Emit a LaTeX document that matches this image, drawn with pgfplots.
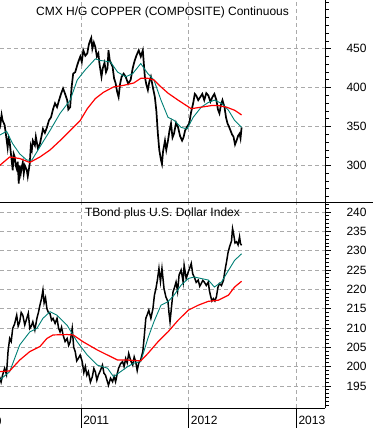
\documentclass[border=0pt]{standalone}
\usepackage{pgfplots}
\pgfplotsset{compat=1.18}
\usepackage{fontspec}
\setmainfont{Liberation Sans}
\definecolor{teal2}{RGB}{0,128,118}
\definecolor{gridg}{RGB}{170,170,170}
\begin{document}
\begin{tikzpicture}
\pgfplotsset{
  every axis/.style={
    scale only axis, width=325pt, xmin=2010.245, xmax=2013.265,
    axis x line*=bottom, axis y line*=right,
    tick align=outside, clip=false,
    yticklabel pos=right,
    /pgf/number format/assume math mode=true,
    /pgf/number format/1000 sep={},
    tick label style={font=\fontsize{12}{12}\selectfont},
    grid style={gridg, dash pattern=on 4pt off 3pt, line width=0.8pt},
    xmajorgrids, ymajorgrids,
    major tick length=6pt, minor tick length=4pt,
    axis line style={line width=0.9pt},
    every tick/.style={black, line width=0.9pt},
    yticklabel style={anchor=west, xshift=12pt},
  }
}
% top panel: copper
\begin{axis}[at={(0pt,226pt)}, anchor=south west, height=202pt,
  ymin=253.2, ymax=512.6,
  xtick={2011,2012,2013}, xticklabels={},
  x tick style={draw=none},
  ytick={300,350,400,450}, minor ytick={260,270,...,510},
]
\addplot[black, line width=1.7pt] coordinates {
(2010.241,362) (2010.250,354) (2010.260,365) (2010.269,358) (2010.288,352) (2010.300,340) (2010.316,323) (2010.325,335) (2010.335,330) (2010.353,307) (2010.363,294) (2010.372,315) (2010.382,311) (2010.391,300) (2010.400,296) (2010.410,305) (2010.419,277) (2010.428,300) (2010.438,290) (2010.447,298) (2010.457,304) (2010.466,290) (2010.476,300) (2010.494,294) (2010.503,286) (2010.522,303) (2010.531,325) (2010.541,320) (2010.550,332) (2010.569,326) (2010.578,337) (2010.597,322) (2010.616,328) (2010.634,340) (2010.644,347) (2010.662,342) (2010.681,349) (2010.700,358) (2010.719,362) (2010.737,372) (2010.756,380) (2010.775,375) (2010.794,384) (2010.812,392) (2010.831,399) (2010.850,392) (2010.869,384) (2010.880,372) (2010.897,375) (2010.910,400) (2010.925,418) (2010.944,420) (2010.963,429) (2010.980,436) (2010.991,440) (2011.005,433) (2011.019,448) (2011.038,441) (2011.056,444) (2011.070,455) (2011.084,461) (2011.093,464) (2011.103,450) (2011.117,458) (2011.131,452) (2011.145,440) (2011.159,444) (2011.170,430) (2011.188,414) (2011.200,425) (2011.216,432) (2011.230,420) (2011.244,425) (2011.253,448) (2011.265,435) (2011.281,430) (2011.291,427) (2011.305,412) (2011.319,406) (2011.333,395) (2011.347,388) (2011.361,405) (2011.375,414) (2011.394,418) (2011.413,414) (2011.436,405) (2011.459,410) (2011.478,425) (2011.497,435) (2011.515,442) (2011.534,448) (2011.553,440) (2011.572,448) (2011.582,430) (2011.591,414) (2011.605,404) (2011.619,397) (2011.633,408) (2011.647,414) (2011.666,400) (2011.684,388) (2011.698,370) (2011.712,341) (2011.725,320) (2011.741,307) (2011.750,302) (2011.760,318) (2011.778,332) (2011.790,320) (2011.806,332) (2011.820,345) (2011.834,354) (2011.848,336) (2011.862,341) (2011.881,355) (2011.900,349) (2011.918,338) (2011.937,332) (2011.950,336) (2011.965,345) (2011.984,350) (2012.003,354) (2012.020,368) (2012.040,380) (2012.055,392) (2012.068,390) (2012.087,384) (2012.106,388) (2012.125,392) (2012.143,384) (2012.162,393) (2012.181,390) (2012.200,382) (2012.219,388) (2012.237,392) (2012.256,384) (2012.270,372) (2012.284,367) (2012.298,378) (2012.312,384) (2012.331,375) (2012.345,362) (2012.359,354) (2012.373,350) (2012.387,345) (2012.401,340) (2012.415,337) (2012.429,327) (2012.443,332) (2012.457,338) (2012.471,341) (2012.480,335) (2012.490,349)
};
\addplot[teal2, line width=0.9pt] coordinates {
(2010.241,339) (2010.306,344) (2010.363,328) (2010.428,315) (2010.494,307) (2010.541,307) (2010.616,324) (2010.710,345) (2010.803,367) (2010.897,384) (2010.963,410) (2011.038,423) (2011.131,437) (2011.178,435) (2011.272,433) (2011.338,420) (2011.413,414) (2011.478,418) (2011.553,431) (2011.619,418) (2011.675,410) (2011.741,384) (2011.806,362) (2011.862,358) (2011.928,349) (2011.984,347) (2012.040,362) (2012.115,375) (2012.181,381) (2012.237,384) (2012.303,380) (2012.368,371) (2012.425,358) (2012.490,349)
};
\addplot[red, line width=1.2pt] coordinates {
(2010.241,300) (2010.335,311) (2010.428,309) (2010.522,304) (2010.616,311) (2010.710,320) (2010.803,332) (2010.897,345) (2010.991,358) (2011.056,373) (2011.131,386) (2011.206,394) (2011.300,401) (2011.394,403) (2011.488,406) (2011.553,412) (2011.619,412) (2011.675,410) (2011.741,401) (2011.806,393) (2011.900,384) (2012.022,373) (2012.115,375) (2012.209,377) (2012.275,377) (2012.350,375) (2012.425,371) (2012.490,365)
};
\node[anchor=base, font=\fontsize{12}{12}\selectfont, inner sep=0pt] at ([yshift=-15.5pt]rel axis cs:0.5,1) {CMX H/G COPPER (COMPOSITE) Continuous};
\end{axis}
% bottom panel
\begin{axis}[at={(0pt,20pt)}, anchor=south west, height=206pt,
  ymin=189.3, ymax=242.6,
  xtick=\empty,
  minor xtick={2010.25,2010.33333,...,2013.26},
  extra x ticks={2011,2012,2013},
  extra x tick labels={2011,2012,2013},
  extra x tick style={major tick length=20pt, grid=major,
    xticklabel style={anchor=north west, xshift=-1.5pt, yshift=15pt}},
  ytick={195,200,...,240}, minor ytick={190,191,...,242},
]
\addplot[black, line width=1.5pt] coordinates {
(2010.241,197.4) (2010.255,196.0) (2010.269,197.8) (2010.288,199.6) (2010.305,198.0) (2010.320,204.0) (2010.335,207.3) (2010.349,206.5) (2010.363,209.9) (2010.380,211.0) (2010.400,213.3) (2010.414,210.5) (2010.428,211.6) (2010.442,214.0) (2010.457,213.3) (2010.475,210.8) (2010.494,212.5) (2010.508,213.8) (2010.522,209.9) (2010.536,210.5) (2010.550,211.6) (2010.569,209.5) (2010.588,212.5) (2010.602,214.0) (2010.616,215.9) (2010.630,217.5) (2010.644,219.8) (2010.655,216.5) (2010.668,217.8) (2010.681,215.0) (2010.695,214.0) (2010.710,213.7) (2010.724,212.0) (2010.738,212.5) (2010.757,211.2) (2010.775,212.5) (2010.789,210.0) (2010.803,209.0) (2010.817,210.2) (2010.831,208.2) (2010.850,206.5) (2010.869,207.3) (2010.883,205.5) (2010.897,206.4) (2010.916,209.9) (2010.930,205.0) (2010.944,203.9) (2010.958,201.5) (2010.972,202.1) (2010.990,203.0) (2011.009,201.3) (2011.024,198.5) (2011.038,200.0) (2011.052,197.8) (2011.066,198.7) (2011.085,196.0) (2011.103,197.4) (2011.117,199.5) (2011.131,198.7) (2011.145,196.5) (2011.159,197.8) (2011.178,199.0) (2011.197,200.4) (2011.211,198.3) (2011.225,197.8) (2011.239,196.5) (2011.253,195.2) (2011.272,197.0) (2011.291,196.1) (2011.305,197.5) (2011.319,196.1) (2011.333,198.0) (2011.347,199.6) (2011.366,200.8) (2011.384,201.3) (2011.398,200.0) (2011.413,202.1) (2011.427,201.0) (2011.441,203.4) (2011.460,201.5) (2011.478,200.4) (2011.492,202.5) (2011.506,201.3) (2011.520,199.0) (2011.534,200.9) (2011.553,201.8) (2011.572,203.9) (2011.586,208.0) (2011.600,212.5) (2011.614,213.5) (2011.628,214.6) (2011.647,212.5) (2011.666,215.0) (2011.680,218.5) (2011.694,220.2) (2011.708,222.5) (2011.722,225.4) (2011.736,222.0) (2011.750,225.4) (2011.769,220.2) (2011.787,218.0) (2011.806,216.8) (2011.815,214.0) (2011.825,211.6) (2011.839,215.5) (2011.853,219.4) (2011.867,220.5) (2011.881,221.9) (2011.895,219.5) (2011.909,223.7) (2011.928,225.0) (2011.947,221.9) (2011.956,226.2) (2011.975,222.8) (2011.994,224.5) (2012.008,225.5) (2012.022,226.7) (2012.036,224.0) (2012.050,223.2) (2012.068,221.8) (2012.087,222.4) (2012.101,220.8) (2012.115,221.5) (2012.129,222.3) (2012.143,221.9) (2012.162,221.0) (2012.181,221.9) (2012.190,219.8) (2012.200,218.5) (2012.214,217.0) (2012.228,217.6) (2012.242,217.0) (2012.256,218.1) (2012.270,220.5) (2012.284,221.5) (2012.303,221.0) (2012.322,222.4) (2012.336,225.0) (2012.350,227.1) (2012.364,229.5) (2012.378,231.0) (2012.396,232.5) (2012.406,235.7) (2012.415,234.5) (2012.429,232.0) (2012.443,232.3) (2012.457,231.5) (2012.471,233.6) (2012.480,231.8) (2012.490,231.4)
};
\addplot[teal2, line width=0.9pt] coordinates {
(2010.241,196.5) (2010.335,198.7) (2010.428,205.6) (2010.522,209.0) (2010.588,209.9) (2010.644,212.5) (2010.710,214.2) (2010.775,213.3) (2010.869,210.7) (2010.963,206.4) (2011.056,203.0) (2011.150,200.4) (2011.244,199.6) (2011.300,197.4) (2011.366,198.7) (2011.431,200.0) (2011.488,200.9) (2011.553,201.3) (2011.619,207.3) (2011.675,211.6) (2011.741,215.9) (2011.806,216.8) (2011.862,218.5) (2011.928,221.1) (2011.994,222.8) (2012.050,223.2) (2012.115,222.8) (2012.181,222.4) (2012.237,220.6) (2012.303,221.9) (2012.368,224.9) (2012.425,227.5) (2012.490,229.2)
};
\addplot[red, line width=1.2pt] coordinates {
(2010.241,198.7) (2010.335,198.9) (2010.428,201.7) (2010.522,203.9) (2010.616,205.2) (2010.681,207.3) (2010.738,208.2) (2010.869,208.3) (2010.925,208.2) (2011.019,206.4) (2011.150,204.3) (2011.244,203.0) (2011.338,201.7) (2011.431,201.7) (2011.553,201.5) (2011.619,203.4) (2011.712,206.4) (2011.806,209.0) (2011.900,212.0) (2011.994,214.6) (2012.087,215.9) (2012.181,216.9) (2012.275,217.2) (2012.368,218.5) (2012.425,220.6) (2012.490,222.1)
};
\node[anchor=base, font=\fontsize{12}{12}\selectfont, inner sep=0pt] at ([yshift=-14.5pt]rel axis cs:0.5,1) {TBond plus U.S. Dollar Index};
\node[anchor=base west, font=\fontsize{12}{12}\selectfont, inner sep=0pt] at ([xshift=1pt,yshift=-17pt]axis cs:2010,189.3) {2010};
\end{axis}
\draw[line width=0.9pt] (0pt,226pt) -- (373pt,226pt);
\pgfresetboundingbox
\useasboundingbox (0pt,0pt) rectangle (373pt,428pt);
\end{tikzpicture}
\end{document}
